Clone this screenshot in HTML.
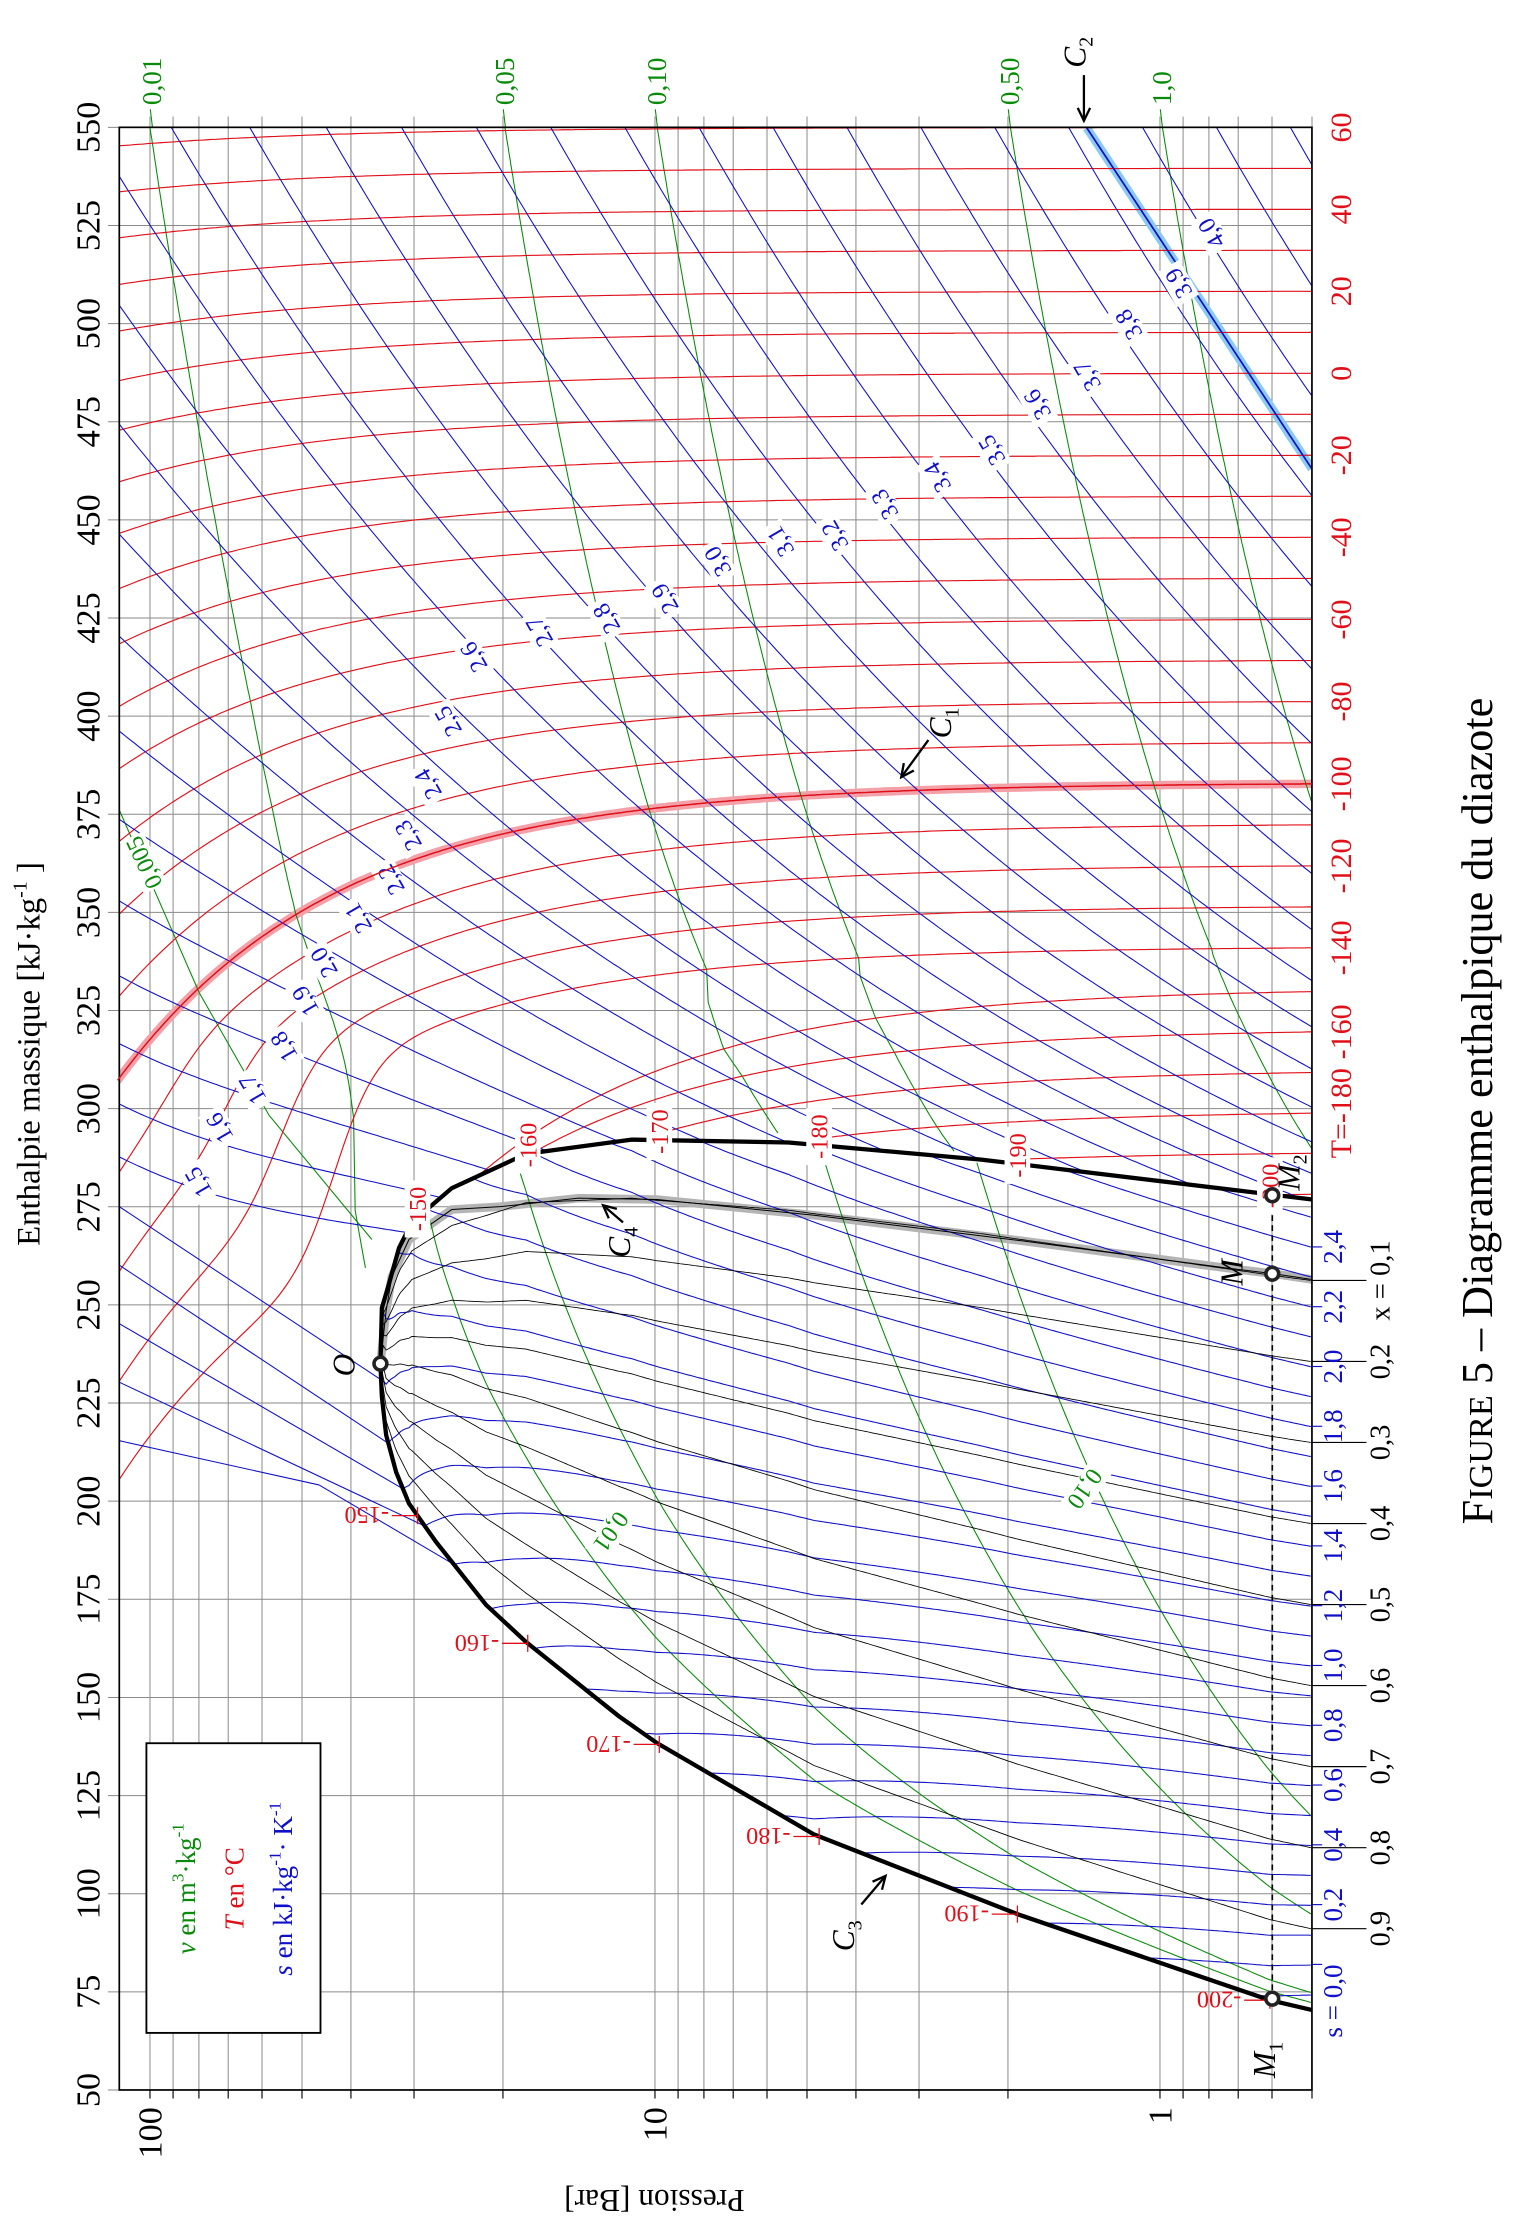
<!DOCTYPE html>
<html><head><meta charset="utf-8"><style>html,body{margin:0;padding:0;background:#fff}svg{display:block}</style></head>
<body>
<svg id="svg" xmlns="http://www.w3.org/2000/svg" width="1515" height="2231" viewBox="1.4 1.4 1061.7 1563.4" font-family="'Liberation Serif', serif">
<defs>
<clipPath id="cf"><rect x="85" y="90.6" width="835.8" height="1375.4"/></clipPath>
<clipPath id="cout"><path id="coutp" clip-rule="evenodd" d=""/></clipPath>
<clipPath id="cin"><path id="cinp" d=""/></clipPath>
</defs>
<rect x="0" y="0" width="1100" height="1600" fill="#fff"/>
<g id="g"></g>
</svg>
<script>
const NS='http://www.w3.org/2000/svg';
const svg=document.getElementById('svg');
const G=document.getElementById('g');
function add(tag,attrs,parent,text){const e=document.createElementNS(NS,tag);for(const k in attrs)e.setAttribute(k,attrs[k]);if(text!==undefined)e.textContent=text;(parent||G).appendChild(e);return e;}
function X(P){return 814.3-353.9*Math.log10(P);}
function Pof(x){return Math.pow(10,(814.3-x)/353.9);}
function Y(h){return 90.6+(550-h)*2.7508;}
const XL=85,XR=920.8,YT=90.6,YB=1466;
function pth(pts){return pts.map((p,i)=>(i?'L':'M')+p[0].toFixed(1)+','+p[1].toFixed(1)).join('');}
function interp(arr,x){if(x<=arr[0][0])return arr[0][1];for(let i=1;i<arr.length;i++){if(x<=arr[i][0]){const a=arr[i-1],b=arr[i];return a[1]+(b[1]-a[1])*(x-a[0])/(b[0]-a[0]);}}return arr[arr.length-1][1];}
const V=[[268,957],[269,918],[274,901],[281,876],[290,858],[318,834],[370,810],[444,800],[554,802],[689,814],[872,836],[921,842]];
const L=[[268,957],[269,980],[272,1007],[279,1033],[288,1055],[307,1082],[342,1126],[370,1152],[435,1204],[462,1223],[572,1287],[715,1343],[891,1403],[921,1410]];
const domeD=pth(V.concat([[921,1410]]).concat(L.slice().reverse()))+'Z';
document.getElementById('cinp').setAttribute('d',domeD);
document.getElementById('coutp').setAttribute('d','M85,90.6H920.8V1466H85Z'+domeD);

const lGrid=add('g',{});
const lHi=add('g',{'clip-path':'url(#cf)'});
const lGreen=add('g',{'clip-path':'url(#cf)',fill:'none',stroke:'#0a8a0a','stroke-width':0.75});
const lGreenOut=add('g',{'clip-path':'url(#cout)'},lGreen);
const lGreenIn=add('g',{'clip-path':'url(#cin)'},lGreen);
const lRed=add('g',{'clip-path':'url(#cf)',fill:'none',stroke:'#e0101a','stroke-width':0.8});
const lRedOut=add('g',{'clip-path':'url(#cout)'},lRed);
const lBlue=add('g',{'clip-path':'url(#cf)',fill:'none',stroke:'#1010c8','stroke-width':0.75});
const lBlueOut=add('g',{'clip-path':'url(#cout)'},lBlue);
const lBlueIn=add('g',{'clip-path':'url(#cin)'},lBlue);
const lBlack=add('g',{fill:'none',stroke:'#000','stroke-width':0.6});
const lTop=add('g',{});

let Ps=[];[0.1,1,10].forEach(d=>{for(let k=1;k<=9;k++){const P=k*d;if(P>=0.5-1e-9&&P<=115)Ps.push(P);}});Ps.push(100);
Ps.forEach(P=>{const x=X(P);add('line',{x1:x,y1:83,x2:x,y2:YB,stroke:'#8a8a8a','stroke-width':0.7},lGrid);add('line',{x1:x,y1:YB,x2:x,y2:YB+6,stroke:'#000','stroke-width':0.8},lGrid);});
for(let h=50;h<=550;h+=25){const y=Y(h);add('line',{x1:77,y1:y,x2:XR,y2:y,stroke:'#8a8a8a','stroke-width':0.7},lGrid);}

function tab(t,T){if(T<=t[0][0])return t[0][1];for(let i=1;i<t.length;i++){if(T<=t[i][0]){const a=t[i-1],b=t[i];return a[1]+(b[1]-a[1])*(T-a[0])/(b[0]-a[0]);}}return t[t.length-1][1];}
const aTab=[[-200,3],[-190,3],[-180,4.2],[-170,4.6],[-160,5],[-150,5.9],[-140,4.5],[-100,1.8],[-80,1.3],[-60,0.913],[-40,0.652],[-20,0.478],[0,0.348],[20,0.243],[40,0.174],[60,0.113]];
const LT=[[-140,2.03],[-130,2.03],[-120,1.96],[-110,1.88],[-100,1.8]];
const ST=[[-140,140],[-130,100],[-120,60],[-110,30],[-100,0]];
const PT=[[-140,43],[-130,55],[-120,70],[-110,90],[-100,120]];
function yT(T,P){const y0=90.6+(60-T)*2.87;let D;
 if(T>=-100)D=tab(aTab,T)*P;
 else if(T>=-140){D=tab(LT,T)*P+tab(ST,T)/(1+Math.exp(-Math.log10(P/tab(PT,T))/0.04));}
 else D=tab(aTab,T)*P;
 return y0+D;}
function Psat(T){return Math.exp(9.071-700.2/(T+273.15));}
function isoPts(T){const pts=[];let pmax=200;if(T<-147)pmax=Psat(T);
 for(let x=XR;x>=XL-3;x-=3){const P=Pof(x);if(P>pmax){pts.push([X(pmax),yT(T,pmax)]);break;}pts.push([x,yT(T,P)]);}return pts;}

add('path',{d:pth(isoPts(-100)),fill:'none',stroke:'#f4a0a8','stroke-width':6,'stroke-linecap':'round'},lHi);
add('path',{d:'M763,91L920.8,330',fill:'none',stroke:'#8ccaf0','stroke-width':6},lHi);
const C4=[[268,957],[272,920],[276,896],[288,870],[318,849],[352,847],[407,841],[462,842],[572,853],[718,871],[861,890],[894,894],[921,898]];
add('path',{d:pth(C4),fill:'none',stroke:'#b4b4b4','stroke-width':6,'stroke-linecap':'round'},lHi);

for(let T=60;T>=-200;T-=10){add('path',{d:pth(isoPts(T))},lRedOut);}
for(let T=60;T>=-180;T-=20){const y=yT(T,0.5);add('text',{transform:`translate(948,${y.toFixed(1)}) rotate(-90)`,'text-anchor':'middle',fill:'#e0101a','font-size':21},lTop,T==-180?'T=-180':String(T));}

function yS(s,P){const T=Math.exp((s+2.016+0.2968*Math.log(P))/1.04);const h=1.04*T+204;const K=1.34*Math.exp(-(s-1.6)/0.5);return Y(h)+100*Math.tanh(K*P/100);}
for(let k=15;k<=43;k++){const s=k/10;const pts=[];for(let x=XR;x>=XL-3;x-=3)pts.push([x,yS(s,Pof(x))]);add('path',{d:pth(pts)},lBlueOut);}
const sc=1.45,sL0=-0.15,sV0=2.56;
function uOf(P){return Math.min(1,Math.log(P/0.5)/Math.log(70));}
function twoPts(fn){const segs=[];let cur=[];for(let x=268;x<=921;x+=2){const q=fn(x);if(q>=0&&q<=1){const yl=interp(L,x),yv=interp(V,x);cur.push([x,yl+q*(yv-yl)]);}else{if(cur.length>1)segs.push(cur);cur=[];}}if(cur.length>1)segs.push(cur);return segs.map(pth).join('');}
for(let k=-1;k<=26;k++){const s=k/10;const d=twoPts(x=>{const r=Math.sqrt(Math.max(0,1-uOf(Pof(x))));const sl=sc-(sc-sL0)*r,sv=sc+(sV0-sc)*r;if(sv-sl<1e-6)return -1;return (s-sl)/(sv-sl);});if(d)add('path',{d:d},lBlueIn);}
for(let k=10;k<=14;k++){const s=k/10;const r=(sc-s)/(sc-sL0);const u=1-r*r;const P=0.5*Math.pow(70,u);const x=X(P),y=interp(L,x);const yl=1011-(s-1.0)*410;
 if(k==10)add('path',{d:`M225,1042L${x.toFixed(1)},${y.toFixed(1)}`},lBlue);else add('path',{d:`M85,${yl}L${x.toFixed(1)},${y.toFixed(1)}`},lBlue);}
add('path',{d:'M85,1011L225,1042'},lBlue);

function isochore(v){const pts=[];for(let T=64;T>=-200;T-=1){const TK=T+273.15;const P=TK*296.8/(v*1e5);if(P>130)continue;if(P<0.45)continue;if(T<-147&&P>Psat(T))break;pts.push([X(P),yT(T,P)]);}return pts;}
[0.01,0.05,0.10,0.50,1.0].forEach(v=>{add('path',{d:pth(isochore(v))},lGreenOut);
 const P=333.15*296.8/(v*1e5);const x=X(P);add('line',{x1:x,y1:90.6,x2:x-1.5,y2:78,stroke:'#0a8a0a','stroke-width':0.75},lTop);
 add('text',{transform:`translate(${(x+6).toFixed(1)},75) rotate(-90)`,fill:'#0a8a0a','font-size':19},lTop,v==0.01?'0,01':v==0.05?'0,05':v==0.1?'0,10':v==0.5?'0,50':'1,0');});
add('path',{d:'M85,569L141,697L190,783L262,870'},lGreenOut);
function vq(v){return x=>{const P=Pof(x);const T=700.2/(9.071-Math.log(P));const Z=1-0.71*Math.pow(Math.min(1,P/34),0.8);const vV=Z*296.8*T/(P*1e5);const vL=0.00124+0.0019*Math.pow(Math.min(1,P/34),3);return (v-vL)/(vV-vL);};}
[0.005,0.01,0.05,0.10].forEach(v=>{const d=twoPts(vq(v));if(d)add('path',{d:d},lGreenIn);});

for(let k=1;k<=9;k++){const q=k/10;const pts=[];for(let x=268;x<=921;x+=2){const yl=interp(L,x),yv=interp(V,x);pts.push([x,yl+q*(yv-yl)]);}
 add('path',{d:pth(pts)},lBlack);const ye=pts[pts.length-1][1];add('line',{x1:921,y1:ye,x2:959,y2:ye,stroke:'#000','stroke-width':0.8},lTop);
 add('text',{transform:`translate(975,${ye.toFixed(1)}) rotate(-90)`,'text-anchor':'middle','font-size':20},lTop,(k==9?'x = ':'')+'0,'+(10-k));}

add('path',{d:pth(isoPts(-100)),fill:'none',stroke:'#e0101a','stroke-width':1},lHi.parentNode);
add('path',{d:'M763,91L920.8,330',fill:'none',stroke:'#1010c8','stroke-width':1.2},lTop);
add('path',{d:pth(C4),fill:'none',stroke:'#000','stroke-width':0.7},lTop);
add('path',{d:pth(V),fill:'none',stroke:'#000','stroke-width':3},lTop);
add('path',{d:pth(L),fill:'none',stroke:'#000','stroke-width':3},lTop);
add('rect',{x:85,y:90.6,width:835.8,height:1375.4,fill:'none',stroke:'#000','stroke-width':1.2},lTop);
add('line',{x1:893,y1:839,x2:893,y2:1402,stroke:'#000','stroke-width':1.2,'stroke-dasharray':'4,3'},lTop);

for(let T=-150;T>=-200;T-=10){const P=Psat(T);const x=X(P);const yv=interp(V,x),yl=interp(L,x);
 add('rect',{x:x-9,y:yv-26,width:18,height:40,fill:'#fff'},lTop);
 add('text',{transform:`translate(${(x+6).toFixed(1)},${(yv-6).toFixed(1)}) rotate(-90)`,'text-anchor':'middle',fill:'#e0101a','font-size':17},lTop,String(T));
 add('line',{x1:x,y1:yl,x2:x-18,y2:yl,stroke:'#e0101a','stroke-width':0.9},lTop);
 add('line',{x1:x,y1:yl-6,x2:x,y2:yl+6,stroke:'#e0101a','stroke-width':0.9},lTop);
 add('text',{transform:`translate(${(x-20).toFixed(1)},${(yl-6).toFixed(1)}) rotate(180)`,fill:'#e0101a','font-size':17},lTop,String(T));}

const SL=[['4,0',850,165],['3,9',827,200],['3,8',792,229],['3,7',763,265],['3,6',728,285],['3,5',696,317],['3,4',658,336],['3,3',621,355],['3,2',586,377],['3,1',548,381],['3,0',504,395],['2,9',467,421],['2,8',426,435],['2,7',379,444],['2,6',333,462],['2,5',315,507],['2,4',301,551],['2,3',287,587],['2,2',275,618],['2,1',252,645],['2,0',228,676],['1,9',215,703],['1,8',200,735],['1,7',178,765],['1,6',155,792],['1,5',140,830]];
SL.forEach(([t,x,y])=>{const gg=add('g',{transform:`translate(${x},${y}) rotate(-120)`},lTop);add('rect',{x:-14,y:-9,width:28,height:18,fill:'#fff'},gg);add('text',{x:0,y:6,'text-anchor':'middle',fill:'#1010c8','font-size':17},gg,t);});
for(let k=0;k<=24;k+=2){const y=1378-209.5*k/10;add('line',{x1:921,y1:y,x2:928,y2:y,stroke:'#1010c8','stroke-width':0.8},lTop);
 add('text',{transform:`translate(942,${y.toFixed(1)}) rotate(-90)`,'text-anchor':k==0?'end':'middle',fill:'#1010c8','font-size':19},lTop,k==0?'s = 0,0':(Math.floor(k/10)+','+(k%10)));}
[['0,005',102,606],['0,01',430,1075],['0,10',762,1045]].forEach(([t,x,y])=>{const gg=add('g',{transform:`translate(${x},${y}) rotate(${t=='0,005'?-115:-235})`},lTop);add('rect',{x:-20,y:-9,width:40,height:18,fill:'#fff'},gg);add('text',{x:0,y:6,'text-anchor':'middle',fill:'#0a8a0a','font-size':17},gg,t);});

[[268,957],[893,1402],[893,894],[893,839]].forEach(([x,y])=>add('circle',{cx:x,cy:y,r:4.5,fill:'#fff',stroke:'#222','stroke-width':2.5},lTop));
function lab(t,sub,x,y,rot){const e=add('text',{transform:`translate(${x},${y}) rotate(${rot})`,'font-size':22,'font-style':'italic','text-anchor':'middle'},lTop,t);if(sub){add('tspan',{'font-size':14,dy:5,'font-style':'normal'},e,sub);}}
lab('O','',250,958,-90);lab('M','1',895,1445,-90);lab('M','',872,893,-90);lab('M','2',912,823,-90);
lab('C','1',668,508,-90);lab('C','2',762,38,-90);lab('C','3',600,1358,-90);lab('C','4',443,872,-90);
function arrow(x1,y1,x2,y2){add('line',{x1:x1,y1:y1,x2:x2,y2:y2,stroke:'#000','stroke-width':1.6},lTop);const a=Math.atan2(y2-y1,x2-x1);const l=10;
 add('path',{d:`M${x2-l*Math.cos(a-0.45)},${y2-l*Math.sin(a-0.45)}L${x2},${y2}L${x2-l*Math.cos(a+0.45)},${y2-l*Math.sin(a+0.45)}`,fill:'none',stroke:'#000','stroke-width':1.6},lTop);}
arrow(652,520,633,546);arrow(761,54,761,86);arrow(605,1336,622,1316);arrow(438,858,424,846);

for(let h=50;h<=550;h+=25){add('text',{transform:`translate(71,${Y(h).toFixed(1)}) rotate(-90)`,'text-anchor':'middle','font-size':24},lTop,String(h));}
[[100,'100'],[10,'10'],[1,'1']].forEach(([P,t])=>add('text',{transform:`translate(${X(P)+8},1478) rotate(-90)`,'text-anchor':'end','font-size':24},lTop,t));
</script>
<svg style="position:absolute;left:0;top:0" width="1515" height="2231" viewBox="1.4 1.4 1061.7 1563.4" font-family="'Liberation Serif', serif">
<text transform="translate(29,740) rotate(-90)" text-anchor="middle" font-size="23">Enthalpie massique [kJ·kg<tspan font-size="14" dy="-9">-1</tspan><tspan dy="9"> ]</tspan></text>
<text transform="translate(460,1536) rotate(180)" text-anchor="middle" font-size="22">Pression [Bar]</text>
<text transform="translate(1047,780) rotate(-90)" text-anchor="middle" font-size="31">F<tspan font-size="24">IGURE</tspan> 5 – Diagramme enthalpique du diazote</text>
<rect x="104" y="1223" width="122" height="203" fill="#fff" stroke="#000" stroke-width="1.3"/>
<text transform="translate(138,1325) rotate(-90)" text-anchor="middle" font-size="19" fill="#0a8a0a"><tspan font-style="italic">v</tspan> en m<tspan font-size="12" dy="-8">3</tspan><tspan dy="8">·kg</tspan><tspan font-size="12" dy="-8">-1</tspan></text>
<text transform="translate(172,1325) rotate(-90)" text-anchor="middle" font-size="19" fill="#e0101a"><tspan font-style="italic">T</tspan> en °C</text>
<text transform="translate(206,1325) rotate(-90)" text-anchor="middle" font-size="19" fill="#1010c8"><tspan font-style="italic">s</tspan> en kJ·kg<tspan font-size="12" dy="-8">-1</tspan><tspan dy="8">· K</tspan><tspan font-size="12" dy="-8">-1</tspan></text>
</svg>
</body></html>
